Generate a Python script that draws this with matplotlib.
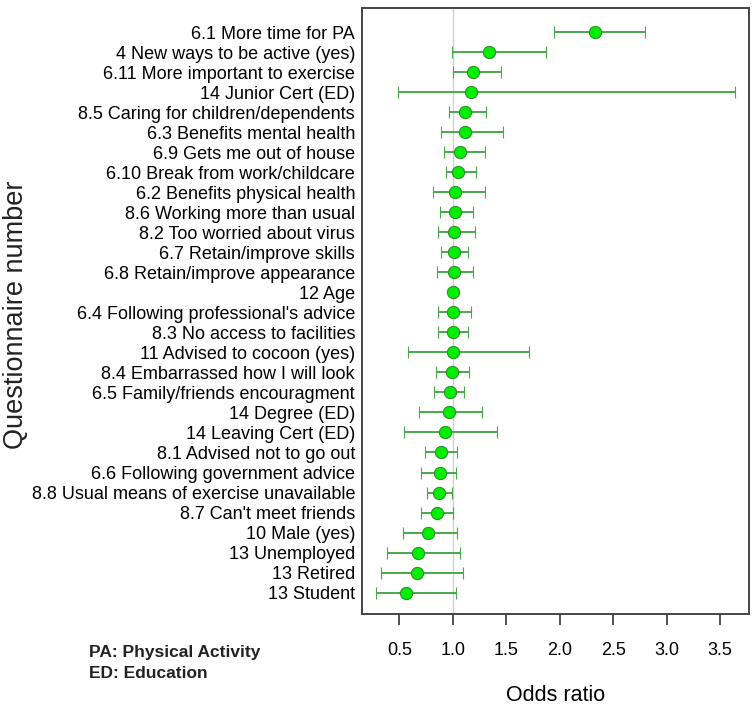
import matplotlib
matplotlib.use('Agg')
import matplotlib.pyplot as plt
import numpy as np

plt.rcParams['font.family'] = ['Liberation Sans', 'DejaVu Sans']

# Questionnaire items, top to bottom
labels = ['6.1 More time for PA', '4 New ways to be active (yes)', '6.11 More important to exercise',
          '14 Junior Cert (ED)', '8.5 Caring for children/dependents', '6.3 Benefits mental health',
          '6.9 Gets me out of house', '6.10 Break from work/childcare', '6.2 Benefits physical health',
          '8.6 Working more than usual', '8.2 Too worried about virus', '6.7 Retain/improve skills',
          '6.8 Retain/improve appearance', '12 Age', "6.4 Following professional's advice",
          '8.3 No access to facilities', '11 Advised to cocoon (yes)', '8.4 Embarrassed how I will look',
          '6.5 Family/friends encouragment', '14 Degree (ED)', '14 Leaving Cert (ED)',
          '8.1 Advised not to go out', '6.6 Following government advice',
          '8.8 Usual means of exercise unavailable', "8.7 Can't meet friends", '10 Male (yes)',
          '13 Unemployed', '13 Retired', '13 Student']

odds = [2.33, 1.34, 1.19, 1.17, 1.11, 1.11, 1.07, 1.05, 1.02,
        1.02, 1.01, 1.01, 1.01, 1.005, 1.00, 1.00, 1.00, 0.99, 0.97,
        0.965, 0.93, 0.89, 0.875, 0.87, 0.85, 0.77, 0.67, 0.66, 0.56]
lower = [1.95, 0.99, 1.00, 0.49, 0.965, 0.885, 0.915, 0.935, 0.81,
         0.88, 0.86, 0.89, 0.85, 0.99, 0.865, 0.865, 0.58, 0.845, 0.82,
         0.68, 0.54, 0.735, 0.70, 0.76, 0.70, 0.53, 0.38, 0.33, 0.28]
upper = [2.80, 1.87, 1.45, 3.64, 1.31, 1.47, 1.30, 1.22, 1.30,
         1.19, 1.21, 1.14, 1.19, 1.02, 1.165, 1.145, 1.71, 1.15, 1.10,
         1.27, 1.41, 1.035, 1.03, 0.99, 1.00, 1.035, 1.065, 1.095, 1.03]

xticks = [0.5, 1.0, 1.5, 2.0, 2.5, 3.0, 3.5]

odds = np.array(odds)
err = [odds - np.array(lower), np.array(upper) - odds]
y = np.arange(len(labels))

fig = plt.figure(figsize=(7.55, 7.11), dpi=100)
ax = fig.add_axes([362 / 755, 1 - 614 / 711, 387 / 755, 606 / 711])

ax.axvline(1.0, color='#d0d0d0', lw=1, zorder=1)
ax.errorbar(odds, y, xerr=err, fmt='o', color='#4aa84a', ecolor='#4aa84a', elinewidth=1.4,
            capsize=4.2, capthick=1.4, markersize=8.8, markerfacecolor='#00ee00',
            markeredgecolor='#2f8f2f', markeredgewidth=0.8, zorder=3)

ax.set_xlim(0.15, 3.77)
ax.set_ylim(len(labels) - 1 + 1.07, -1.21)
ax.set_yticks(y)
ax.set_yticklabels(labels, fontsize=13)
ax.tick_params(axis='y', length=0, pad=5)
ax.set_xticks(xticks)
ax.set_xticklabels(['%.1f' % t for t in xticks], fontsize=13)
ax.tick_params(axis='x', length=8, width=1.2, color='#333333', pad=12)
for s in ax.spines.values():
    s.set_color('#444444')
    s.set_linewidth(1.4)

ax.set_xlabel('Odds ratio', fontsize=15.5)
ax.xaxis.set_label_coords(0.5, -0.117)
fig.text(16 / 755, 1 - 315 / 711, 'Questionnaire number', rotation=90, fontsize=19.5,
         ha='center', va='center', color='#222222')

fig.text(89 / 755, 1 - 652 / 711, 'PA: Physical Activity', fontsize=12.5, fontweight='bold',
         ha='left', va='center', color='#222222')
fig.text(89 / 755, 1 - 673 / 711, 'ED: Education', fontsize=12.5, fontweight='bold',
         ha='left', va='center', color='#222222')

fig.savefig('out.png', dpi=100)
